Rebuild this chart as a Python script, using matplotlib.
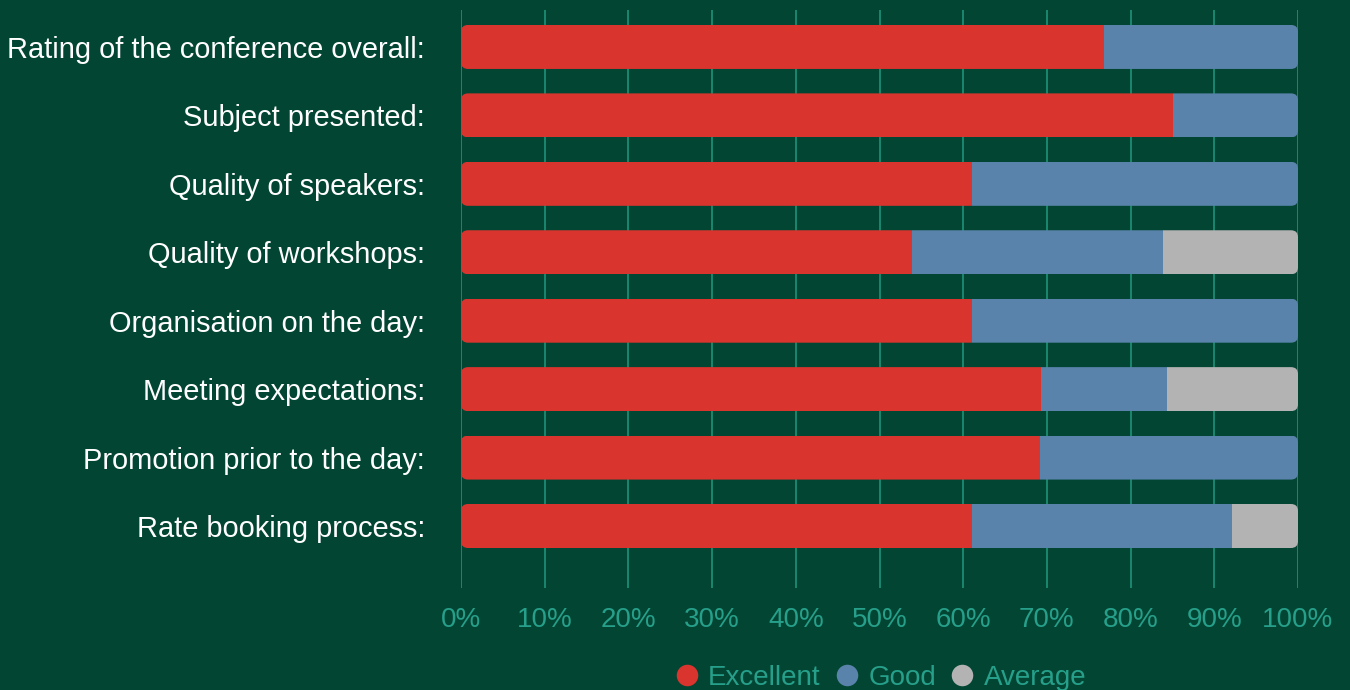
import matplotlib.pyplot as plt
from matplotlib.patches import FancyBboxPatch
from matplotlib.lines import Line2D

questions = [
    "Rating of the conference overall:",
    "Subject presented:",
    "Quality of speakers:",
    "Quality of workshops:",
    "Organisation on the day:",
    "Meeting expectations:",
    "Promotion prior to the day:",
    "Rate booking process:",
]
excellent = [76.8, 85.1, 61.0, 53.9, 61.0, 69.3, 69.2, 61.0]
good = [23.2, 14.9, 39.0, 30.0, 39.0, 15.1, 30.8, 31.1]
average = [0.0, 0.0, 0.0, 16.1, 0.0, 15.6, 0.0, 7.9]
xticks = [0, 10, 20, 30, 40, 50, 60, 70, 80, 90, 100]

bg = "#034533"
grid_col = "#1d8c74"
teal = "#26a08a"
colors = {"Excellent": "#d9352e", "Good": "#5983aa", "Average": "#b3b3b3"}

plt.rcParams["font.family"] = ["Liberation Sans", "DejaVu Sans"]

fig = plt.figure(figsize=(13.5, 6.9), dpi=100, facecolor=bg)
W, H = 1350, 690
ax = fig.add_axes([461 / W, 1 - 588 / H, (1298 - 461) / W, (588 - 10) / H])
ax.set_facecolor(bg)

ypos = list(range(len(questions)))
bar_h = 0.643

# rounded outline of each full bar, used to clip the stacked segments
px_x = (1298 - 461) / 100.0
px_y = 68.43
radius = 7 / px_x
aspect = (7 / px_y) / radius

series = [("Excellent", excellent), ("Good", good), ("Average", average)]
left = [0.0] * len(questions)
for name, vals in series:
    bars = ax.barh(ypos, vals, left=left, height=bar_h, color=colors[name],
                   edgecolor="none", zorder=3)
    for i, b in enumerate(bars):
        total = excellent[i] + good[i] + average[i]
        clip = FancyBboxPatch((0, ypos[i] - bar_h / 2), total, bar_h,
                              boxstyle=f"round,pad=0,rounding_size={radius}",
                              mutation_aspect=aspect, transform=ax.transData)
        b.set_clip_path(clip)
    left = [l + v for l, v in zip(left, vals)]

ax.set_xlim(0, 100)
ax.set_ylim(7.906, -0.54)
ax.set_xticks(xticks)
ax.set_xticklabels([f"{t}%" for t in xticks])
ax.set_yticks(ypos)
ax.set_yticklabels(questions)
ax.tick_params(axis="x", length=0, pad=14, labelsize=20, labelcolor=teal)
ax.tick_params(axis="y", length=0, pad=26, labelsize=20.9, labelcolor="white")
ax.grid(axis="x", color=grid_col, linewidth=1.3)
ax.grid(axis="y", visible=False)
ax.set_axisbelow(True)
for s in ax.spines.values():
    s.set_visible(False)

handles = [Line2D([], [], marker="o", linestyle="none", markersize=15.5,
                  markerfacecolor=colors[n], markeredgecolor="none") for n, _ in series]
leg = fig.legend(handles, [n for n, _ in series], loc="center",
                 bbox_to_anchor=((461 + 1298) / 2 / W, 1 - 678 / H), ncol=3,
                 frameon=False, fontsize=20, handletextpad=0.27, columnspacing=0.45,
                 handlelength=1.0)
for t in leg.get_texts():
    t.set_color(teal)

fig.savefig("out.png", dpi=100, facecolor=bg)
